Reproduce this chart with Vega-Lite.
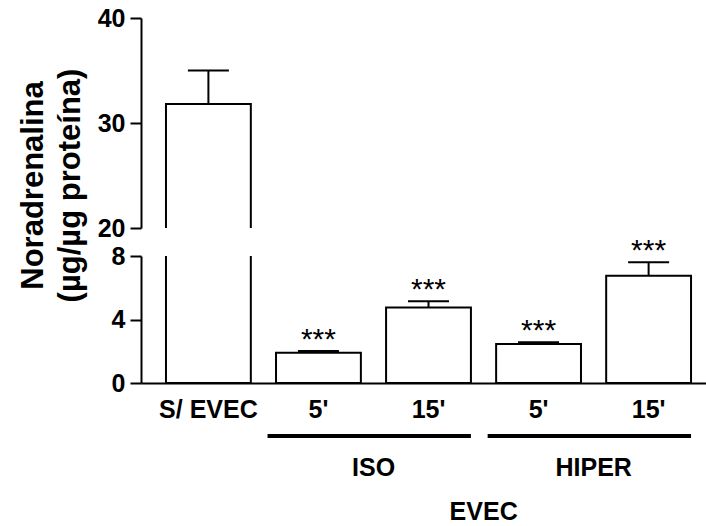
{
  "$schema": "https://vega.github.io/schema/vega-lite/v6.json",
  "padding": {"left": 17, "top": 6, "right": 0, "bottom": 0},
  "background": "white",
  "config": {
    "font": "Liberation Sans",
    "view": {"stroke": null},
    "axis": {"grid": false, "domainColor": "black", "domainWidth": 2, "tickColor": "black", "tickWidth": 2, "labelColor": "black", "titleColor": "black", "labelFont": "Liberation Sans", "titleFont": "Liberation Sans"}
  },
  "datasets": {
    "bars": [
      {"condition": "S/ EVEC", "mean": 31.8, "upper": 35.0, "sig": ""},
      {"condition": "ISO 5'", "mean": 1.9, "upper": 2.02, "sig": "***"},
      {"condition": "ISO 15'", "mean": 4.75, "upper": 5.15, "sig": "***"},
      {"condition": "HIPER 5'", "mean": 2.45, "upper": 2.57, "sig": "***"},
      {"condition": "HIPER 15'", "mean": 6.75, "upper": 7.6, "sig": "***"}
    ],
    "groups": [
      {"group": "ISO", "first": "ISO 5'", "last": "ISO 15'"},
      {"group": "HIPER", "first": "HIPER 5'", "last": "HIPER 15'"}
    ],
    "parent": [
      {"label": "EVEC", "anchor": "ISO 15'"}
    ]
  },
  "bounds": "flush",
  "spacing": 28,
  "vconcat": [
    {
      "width": 566,
      "height": 210,
      "data": {"name": "bars"},
      "encoding": {
        "x": {"field": "condition", "type": "nominal", "sort": null, "axis": null,
              "scale": {"domain": ["S/ EVEC", "ISO 5'", "ISO 15'", "HIPER 5'", "HIPER 15'"], "paddingInner": 0.229, "paddingOuter": 0.186, "align": 0.61}}
      },
      "layer": [
        {
          "mark": {"type": "bar", "fill": "white", "stroke": "black", "strokeWidth": 2, "clip": true},
          "encoding": {
            "y": {"field": "mean", "type": "quantitative",
                  "scale": {"domain": [20, 40], "nice": false, "zero": false},
                  "axis": {"values": [20, 30, 40], "tickSize": 11, "labelPadding": 5, "labelFontSize": 25, "labelFontWeight": "bold", "domain": true,
                           "title": ["Noradrenalina", "(µg/µg proteína)"], "titleFontSize": 31, "titleFontWeight": "bold", "titleLineHeight": 37, "titlePadding": 11, "titleY": 167}}
          }
        },
        {
          "mark": {"type": "rule", "color": "black", "strokeWidth": 2, "clip": true},
          "encoding": {
            "y": {"field": "mean", "type": "quantitative"},
            "y2": {"field": "upper"}
          }
        },
        {
          "mark": {"type": "tick", "color": "black", "size": 41, "thickness": 2, "clip": true, "opacity": 1},
          "encoding": {
            "y": {"field": "upper", "type": "quantitative"}
          }
        }
      ]
    },
    {
      "width": 566,
      "height": 127,
      "data": {"name": "bars"},
      "encoding": {
        "x": {"field": "condition", "type": "nominal", "sort": null,
              "scale": {"domain": ["S/ EVEC", "ISO 5'", "ISO 15'", "HIPER 5'", "HIPER 15'"], "paddingInner": 0.229, "paddingOuter": 0.186, "align": 0.61},
              "axis": {"title": null, "ticks": false, "tickSize": 0, "labelAngle": 0, "labelPadding": 14, "labelFontSize": 25, "labelFontWeight": "bold",
                       "labelExpr": "indexof(datum.label, 'S/') == 0 ? datum.label : split(datum.label, ' ')[1]"}}
      },
      "layer": [
        {
          "mark": {"type": "bar", "fill": "white", "stroke": "black", "strokeWidth": 2, "clip": true},
          "encoding": {
            "y": {"field": "mean", "type": "quantitative",
                  "scale": {"domain": [0, 8], "nice": false},
                  "axis": {"values": [0, 4, 8], "tickSize": 11, "labelPadding": 5, "labelFontSize": 25, "labelFontWeight": "bold", "title": null}}
          }
        },
        {
          "mark": {"type": "rule", "color": "black", "strokeWidth": 2, "clip": true},
          "encoding": {
            "y": {"field": "mean", "type": "quantitative"},
            "y2": {"field": "upper"}
          }
        },
        {
          "mark": {"type": "tick", "color": "black", "size": 41, "thickness": 2, "clip": true, "opacity": 1},
          "encoding": {
            "y": {"field": "upper", "type": "quantitative"}
          }
        },
        {
          "transform": [{"filter": "datum.sig != ''"}],
          "mark": {"type": "text", "fontSize": 30, "color": "black", "baseline": "alphabetic", "dy": -2},
          "encoding": {
            "y": {"field": "upper", "type": "quantitative"},
            "text": {"field": "sig"}
          }
        }
      ]
    },
    {
      "width": 566,
      "height": 50,
      "layer": [
        {
          "data": {"name": "groups"},
          "mark": {"type": "rule", "color": "black", "strokeWidth": 4},
          "encoding": {
            "x": {"field": "first", "type": "nominal", "bandPosition": -0.1, "axis": null,
                  "scale": {"domain": ["S/ EVEC", "ISO 5'", "ISO 15'", "HIPER 5'", "HIPER 15'"], "paddingInner": 0.229, "paddingOuter": 0.186, "align": 0.61}},
            "x2": {"field": "last", "bandPosition": 1.0}
          }
        },
        {
          "data": {"name": "groups"},
          "mark": {"type": "text", "fontSize": 25, "fontWeight": "bold", "color": "black", "baseline": "middle", "dy": 32},
          "encoding": {
            "x": {"field": "first", "type": "nominal", "bandPosition": 1.15},
            "text": {"field": "group"}
          }
        },
        {
          "data": {"name": "parent"},
          "mark": {"type": "text", "fontSize": 25, "fontWeight": "bold", "color": "black", "baseline": "middle", "dy": 76},
          "encoding": {
            "x": {"field": "anchor", "type": "nominal", "bandPosition": 1.15},
            "text": {"field": "label"}
          }
        }
      ]
    }
  ]
}
